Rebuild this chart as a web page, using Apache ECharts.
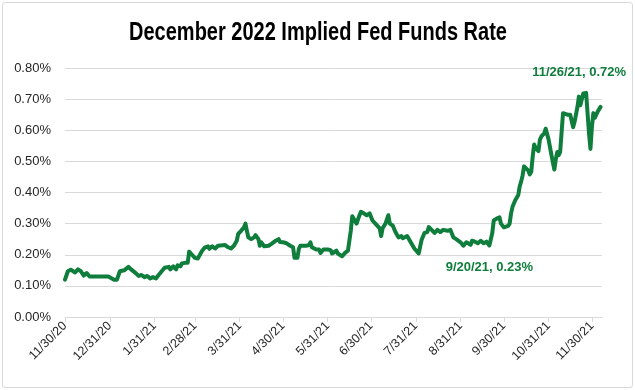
<!DOCTYPE html>
<html>
<head>
<meta charset="utf-8">
<script src="https://cdn.jsdelivr.net/npm/echarts@6/dist/echarts.min.js"></script>
<style>
  html, body { margin: 0; padding: 0; background: #fff; }
  #wrap { position: relative; width: 635px; height: 390px; }
  #chart { position: absolute; left: 0; top: 0; width: 635px; height: 390px; }
  #frame { position: absolute; left: 2px; top: 2px; width: 629px; height: 384px; border: 1px solid #d9d9d9; border-radius: 3px; pointer-events: none; }
</style>
</head>
<body>
<div id="wrap"><div id="chart"></div><div id="frame"></div></div>
<script>
// ---- Data (implied Dec-2022 fed funds rate, %) ----
const dates = [
  '2020-11-30','2020-12-02','2020-12-04','2020-12-07','2020-12-09','2020-12-11','2020-12-13','2020-12-15','2020-12-17','2020-12-24','2020-12-30','2020-12-31',
  '2021-01-03','2021-01-05','2021-01-07','2021-01-10','2021-01-11','2021-01-13','2021-01-15','2021-01-18','2021-01-20','2021-01-22','2021-01-24','2021-01-26','2021-01-28','2021-01-30',
  '2021-02-01','2021-02-03','2021-02-05','2021-02-07','2021-02-10','2021-02-11','2021-02-13','2021-02-15','2021-02-16','2021-02-18','2021-02-19','2021-02-21','2021-02-23','2021-02-24','2021-02-26','2021-02-28',
  '2021-03-02','2021-03-05','2021-03-07','2021-03-09','2021-03-10','2021-03-12','2021-03-14','2021-03-16','2021-03-17','2021-03-21','2021-03-23','2021-03-25','2021-03-27','2021-03-29','2021-03-30',
  '2021-04-01','2021-04-03','2021-04-04','2021-04-05','2021-04-06','2021-04-08','2021-04-10','2021-04-11','2021-04-13','2021-04-14','2021-04-15','2021-04-17','2021-04-18','2021-04-20','2021-04-22','2021-04-25','2021-04-27','2021-04-28','2021-04-30',
  '2021-05-02','2021-05-05','2021-05-07','2021-05-08','2021-05-10','2021-05-11','2021-05-12','2021-05-16','2021-05-18','2021-05-19','2021-05-20','2021-05-23','2021-05-25','2021-05-26','2021-05-28','2021-05-31',
  '2021-06-02','2021-06-03','2021-06-06','2021-06-07','2021-06-10','2021-06-12','2021-06-14','2021-06-16','2021-06-17','2021-06-18','2021-06-20','2021-06-22','2021-06-23','2021-06-25','2021-06-27','2021-06-29','2021-06-30',
  '2021-07-01','2021-07-03','2021-07-06','2021-07-07','2021-07-08','2021-07-10','2021-07-12','2021-07-13','2021-07-15','2021-07-17','2021-07-19','2021-07-21','2021-07-22','2021-07-25','2021-07-26','2021-07-28','2021-07-30',
  '2021-08-02','2021-08-04','2021-08-06','2021-08-08','2021-08-09','2021-08-11','2021-08-13','2021-08-15','2021-08-17','2021-08-19','2021-08-22','2021-08-24','2021-08-26','2021-08-28','2021-08-31',
  '2021-09-02','2021-09-04','2021-09-07','2021-09-08','2021-09-10','2021-09-12','2021-09-14','2021-09-16','2021-09-18','2021-09-20','2021-09-22','2021-09-23','2021-09-25','2021-09-27','2021-09-28','2021-09-30',
  '2021-10-03','2021-10-04','2021-10-05','2021-10-06','2021-10-08','2021-10-10','2021-10-11','2021-10-12','2021-10-13','2021-10-14','2021-10-15','2021-10-17','2021-10-18','2021-10-19','2021-10-20','2021-10-21','2021-10-22','2021-10-24','2021-10-25','2021-10-26','2021-10-28','2021-10-29','2021-10-30','2021-10-31',
  '2021-11-02','2021-11-03','2021-11-04','2021-11-05','2021-11-06','2021-11-07','2021-11-08','2021-11-10','2021-11-11','2021-11-13','2021-11-15','2021-11-17','2021-11-18','2021-11-20','2021-11-21','2021-11-22','2021-11-24','2021-11-26','2021-11-27','2021-11-28','2021-11-29','2021-11-30',
  '2021-12-01','2021-12-02','2021-12-04','2021-12-06'
];
const rates = [
  0.12, 0.147, 0.152, 0.143, 0.153, 0.147, 0.133, 0.141, 0.13, 0.13, 0.13, 0.124,
  0.12, 0.12, 0.147, 0.15, 0.147, 0.161, 0.152, 0.141, 0.132, 0.135, 0.128, 0.132, 0.124, 0.128,
  0.124, 0.136, 0.147, 0.158, 0.161, 0.153, 0.163, 0.153, 0.166, 0.163, 0.172, 0.174, 0.174, 0.21, 0.2, 0.19,
  0.188, 0.213, 0.224, 0.227, 0.219, 0.227, 0.22, 0.229, 0.231, 0.231, 0.224, 0.22, 0.229, 0.245, 0.267,
  0.277, 0.288, 0.30, 0.277, 0.256, 0.25, 0.256, 0.263, 0.25, 0.229, 0.24, 0.227, 0.231, 0.229, 0.235, 0.245, 0.25, 0.241, 0.24,
  0.238, 0.229, 0.224, 0.19, 0.19, 0.219, 0.229, 0.229, 0.231, 0.24, 0.224, 0.217, 0.217, 0.206, 0.217, 0.217,
  0.215, 0.204, 0.213, 0.204, 0.195, 0.206, 0.213, 0.278, 0.324, 0.32, 0.30, 0.327, 0.338, 0.333, 0.327, 0.333, 0.338,
  0.31, 0.30, 0.285, 0.26, 0.285, 0.30, 0.327, 0.30, 0.294, 0.272, 0.256, 0.26, 0.253, 0.26, 0.262, 0.236, 0.22,
  0.204, 0.247, 0.27, 0.273, 0.289, 0.28, 0.27, 0.28, 0.273, 0.28, 0.277, 0.28, 0.256, 0.25, 0.24,
  0.229, 0.24, 0.232, 0.245, 0.242, 0.237, 0.245, 0.237, 0.242, 0.23, 0.27, 0.31, 0.316, 0.32, 0.30, 0.288,
  0.293, 0.30, 0.333, 0.354, 0.376, 0.392, 0.42, 0.435, 0.455, 0.484, 0.49, 0.47, 0.458, 0.467, 0.516, 0.554, 0.543, 0.533, 0.57, 0.58, 0.59, 0.605, 0.61, 0.57,
  0.52, 0.496, 0.474, 0.507, 0.53, 0.52, 0.53, 0.655, 0.655, 0.65, 0.65, 0.61, 0.627, 0.675, 0.708, 0.68, 0.718, 0.72, 0.655, 0.59, 0.54, 0.61,
  0.655, 0.64, 0.66, 0.675
];
const tickDates = ['2020-11-30','2020-12-31','2021-01-31','2021-02-28','2021-03-31','2021-04-30','2021-05-31','2021-06-30','2021-07-31','2021-08-31','2021-09-30','2021-10-31','2021-11-30'];
const tickLabels = ['11/30/20','12/31/20','1/31/21','2/28/21','3/31/21','4/30/21','5/31/21','6/30/21','7/31/21','8/31/21','9/30/21','10/31/21','11/30/21'];
const axisStart = '2020-11-30';
const axisEnd = '2021-12-07';
const annotDates = ['2021-11-26', '2021-09-20'];
const yTicks = [0, 0.1, 0.2, 0.3, 0.4, 0.5, 0.6, 0.7, 0.8];
const titleText = 'December 2022 Implied Fed Funds Rate';

// ---- Build ----
const origin = Date.parse(axisStart);
const dayOf = d => Math.round((Date.parse(d) - origin) / 864e5);
const seriesData = dates.map((d, i) => [dayOf(d), rates[i]]);
const tickDays = tickDates.map(dayOf);
const labelMap = {};
tickDays.forEach((d, i) => { labelMap[d] = tickLabels[i]; });
const shortDate = d => { const p = d.split('-'); return (+p[1]) + '/' + (+p[2]) + '/' + p[0].slice(2); };
const green = '#0f7d3b';
const annotOffsets = [[-7, -20], [0, 22]];
const markData = annotDates.map((d, k) => {
  const i = dates.indexOf(d);
  return {
    coord: [dayOf(d), rates[i]],
    label: { offset: annotOffsets[k], formatter: shortDate(d) + ', ' + rates[i].toFixed(2) + '%' }
  };
});

const chart = echarts.init(document.getElementById('chart'), null, { renderer: 'canvas' });
chart.setOption({
  animation: false,
  backgroundColor: 'transparent',
  graphic: [{
    type: 'text', x: 318, y: 33, scaleX: 0.8, scaleY: 1, silent: true,
    style: {
      text: titleText, fill: '#000',
      font: 'bold 25px "Liberation Sans", Arial, sans-serif',
      align: 'center', verticalAlign: 'middle'
    }
  }],
  grid: { left: 65, right: 33, top: 68, bottom: 73, containLabel: false },
  xAxis: {
    type: 'value', min: 0, max: dayOf(axisEnd),
    axisLine: { show: true, lineStyle: { color: '#d9d9d9', width: 1 } },
    axisTick: { show: true, customValues: tickDays, length: 5, lineStyle: { color: '#d9d9d9' } },
    axisLabel: {
      customValues: tickDays, rotate: 45, margin: 7,
      formatter: v => labelMap[v] || '',
      fontFamily: 'Liberation Sans', fontSize: 12.5, color: '#262626'
    },
    splitLine: { show: false }
  },
  yAxis: {
    type: 'value', min: yTicks[0], max: yTicks[yTicks.length - 1], interval: 0.1,
    axisLine: { show: false }, axisTick: { show: false },
    axisLabel: { formatter: v => v.toFixed(2) + '%', margin: 14, fontFamily: 'Liberation Sans', fontSize: 13, color: '#262626' },
    splitLine: { lineStyle: { color: '#d9d9d9', width: 1 } }
  },
  series: [{
    type: 'line', data: seriesData, showSymbol: false, symbol: 'none',
    lineStyle: { color: green, width: 4, join: 'round', cap: 'round' },
    markPoint: {
      symbol: 'circle', symbolSize: 0, silent: true,
      label: { show: true, position: 'inside', color: green, fontWeight: 'bold', fontSize: 13, fontFamily: 'Liberation Sans' },
      data: markData
    }
  }]
});
</script>
</body>
</html>
